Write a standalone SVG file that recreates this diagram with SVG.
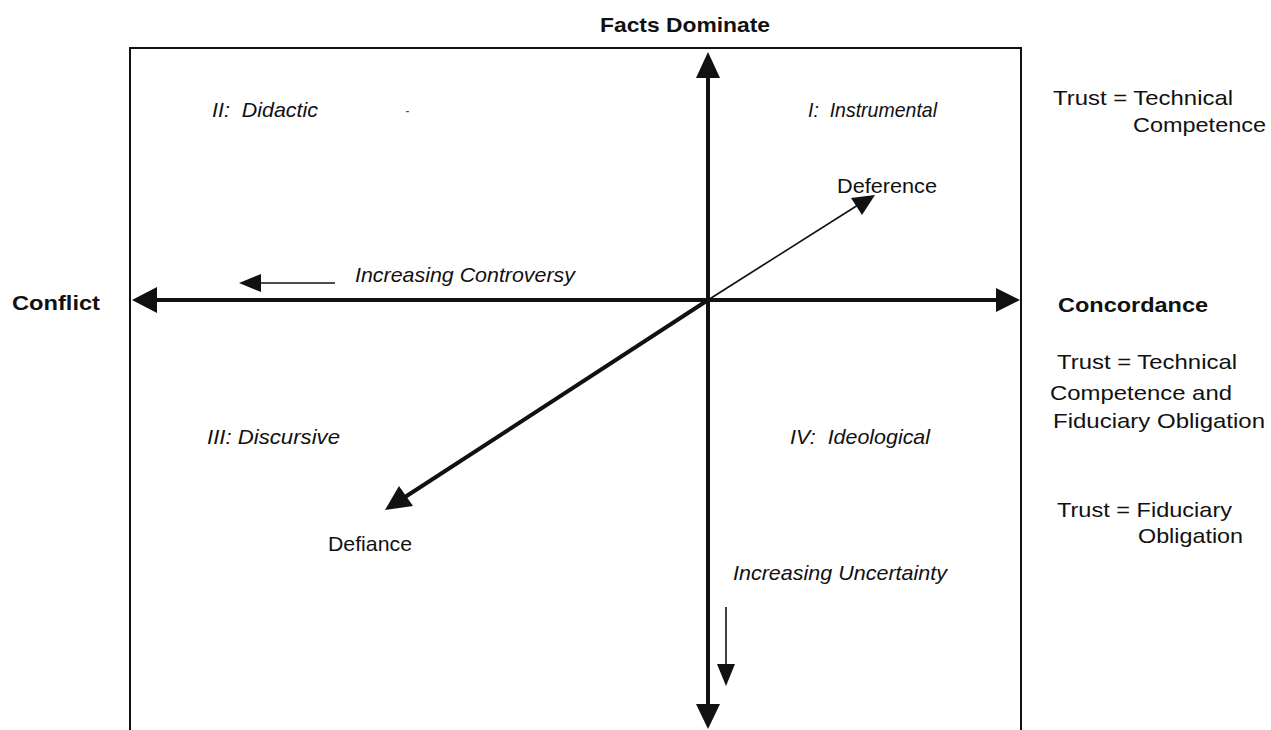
<svg xmlns="http://www.w3.org/2000/svg" width="1271" height="730" viewBox="0 0 1271 730">
<style>
text{font-family:"Liberation Sans",Arial,sans-serif;fill:#111;font-size:21px}
.b{font-weight:bold}
.i{font-style:italic}
.thin{stroke:#111;stroke-width:1.6;fill:none}
.thick{stroke:#111;stroke-width:4;fill:none}
.frame{stroke:#111;stroke-width:2;fill:none}
.head{fill:#111;stroke:none}
</style>
<rect width="1271" height="730" fill="#fff"/>
<g id="frame">
<path class="frame" d="M130,730 V48 H1021 V730"/>
</g>
<g id="connectors">
<line class="thick" x1="708" y1="76" x2="708" y2="706"/>
<polygon class="head" points="708,52 696,78 720,78"/>
<polygon class="head" points="708,729 696,704 720,704"/>
<line class="thick" x1="156" y1="300" x2="998" y2="300"/>
<polygon class="head" points="132,300 157,287 157,313"/>
<polygon class="head" points="1020,300 996,288 996,312"/>
<line class="thin" x1="335" y1="283" x2="258" y2="283"/>
<polygon class="head" points="239,283 261,274 261,292"/>
<line class="thin" x1="726" y1="607" x2="726" y2="666"/>
<polygon class="head" points="726,686 717,664 735,664"/>
<line class="thin" x1="708" y1="300" x2="858" y2="205"/>
<polygon class="head" points="875,195 851,198 862,215"/>
<line class="thick" x1="708" y1="300" x2="402" y2="499"/>
<polygon class="head" points="385,510 399,486 413,506"/>
<rect x="406" y="111" width="3" height="1.2" fill="#555"/>
</g>
<g id="axis-labels">
<text class="b" x="600" y="32" textLength="170" lengthAdjust="spacingAndGlyphs">Facts Dominate</text>
<text class="b" x="12" y="310" textLength="88" lengthAdjust="spacingAndGlyphs">Conflict</text>
<text class="b" x="1058" y="312" textLength="150" lengthAdjust="spacingAndGlyphs">Concordance</text>
</g>
<g id="quadrants">
<text class="i" x="212" y="117" xml:space="preserve" textLength="106" lengthAdjust="spacingAndGlyphs">II:  Didactic</text>
<text class="i" x="808" y="117" xml:space="preserve" textLength="129" lengthAdjust="spacingAndGlyphs">I:  Instrumental</text>
<text class="i" x="207" y="444" textLength="133" lengthAdjust="spacingAndGlyphs">III: Discursive</text>
<text class="i" x="790" y="444" xml:space="preserve" textLength="140" lengthAdjust="spacingAndGlyphs">IV:  Ideological</text>
</g>
<g id="trend-labels">
<text x="837" y="193" textLength="100" lengthAdjust="spacingAndGlyphs">Deference</text>
<text x="328" y="551" textLength="84" lengthAdjust="spacingAndGlyphs">Defiance</text>
<text class="i" x="355" y="282" textLength="220" lengthAdjust="spacingAndGlyphs">Increasing Controversy</text>
<text class="i" x="733" y="580" textLength="214" lengthAdjust="spacingAndGlyphs">Increasing Uncertainty</text>
</g>
<g id="trust-notes">
<text x="1053" y="105" textLength="180" lengthAdjust="spacingAndGlyphs">Trust = Technical</text>
<text x="1133" y="132" textLength="133" lengthAdjust="spacingAndGlyphs">Competence</text>
<text x="1057" y="369" textLength="180" lengthAdjust="spacingAndGlyphs">Trust = Technical</text>
<text x="1050" y="400" textLength="182" lengthAdjust="spacingAndGlyphs">Competence and</text>
<text x="1053" y="428" textLength="212" lengthAdjust="spacingAndGlyphs">Fiduciary Obligation</text>
<text x="1057" y="517" textLength="175" lengthAdjust="spacingAndGlyphs">Trust = Fiduciary</text>
<text x="1138" y="543" textLength="105" lengthAdjust="spacingAndGlyphs">Obligation</text>
</g>
</svg>
